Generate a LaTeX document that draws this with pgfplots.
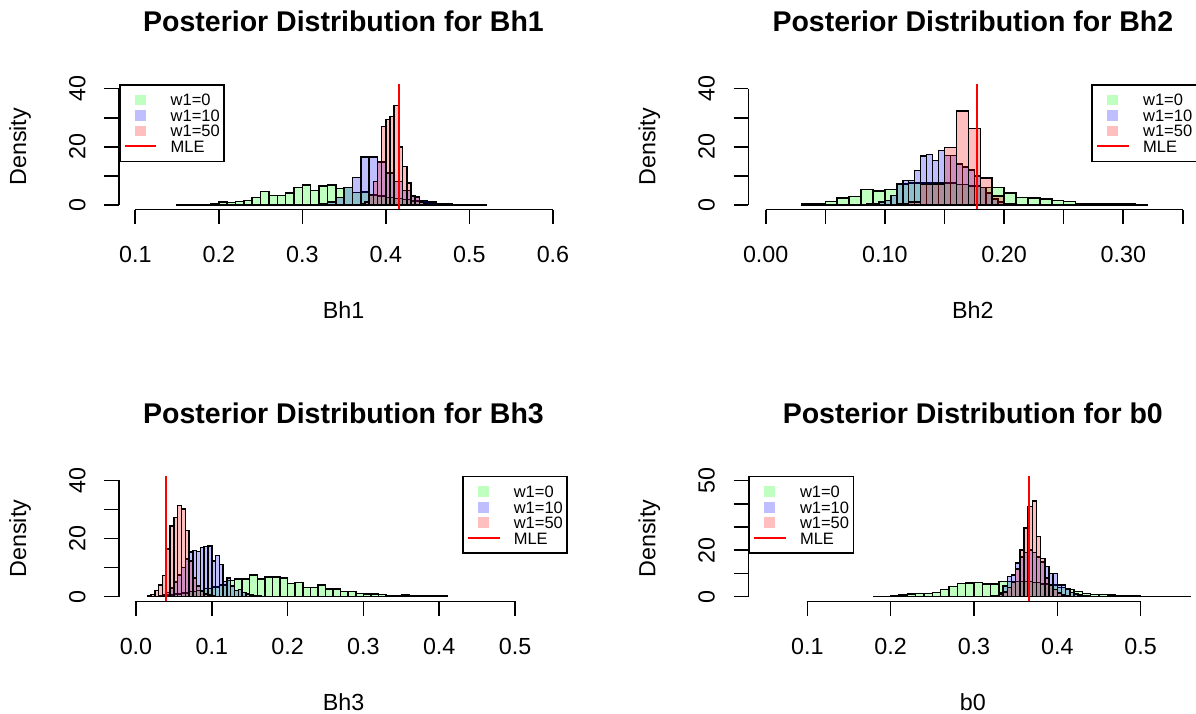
\documentclass[border=0pt]{standalone}
\usepackage{fontspec}
\setmainfont{Liberation Sans}
\usepackage{pgfplots}
\pgfplotsset{compat=1.18}
\newcommand\tickfont{\fontsize{23.3pt}{28pt}\selectfont}
\newcommand\titlefont{\fontsize{28.5pt}{34pt}\selectfont\bfseries}
\newcommand\legfont{\fontsize{16.5pt}{20pt}\selectfont}
\pgfplotsset{
  rpanel/.style={
    scale only axis, width=449pt, height=125.5pt, anchor=south west,
    clip=false,
    axis line style={draw=none},
    tick pos=left, tick align=outside, major tick length=14.7pt,
    tick style={black, line width=1.6pt},
    xticklabel style={anchor=base, inner sep=0pt, yshift=-38.3pt, font=\tickfont},
    yticklabel style={xshift=-18.9pt, rotate=90, anchor=base, inner sep=0pt, font=\tickfont},
    xlabel style={at={(axis description cs:0.5,-0.8717)}, anchor=base, inner sep=0pt, font=\tickfont},
    ylabel style={at={(axis description cs:-0.2071,0.5)}, anchor=base, inner sep=0pt, font=\tickfont},
    title style={at={(axis description cs:0.5,1.3705)}, anchor=base, inner sep=0pt, font=\titlefont},
    ylabel={Density},
    legend cell align=left,
    legend style={draw=black, line width=1.6pt, fill=white, inner xsep=4.3pt, inner ysep=7.3pt,
      row sep=0pt, column sep=0pt, font=\legfont,
      nodes={inner sep=0pt, text height=13.75pt, text depth=1.75pt}},
  },
  hist/.style={ybar interval, fill=#1, fill opacity=0.25, draw=black, line width=1.5pt,
    legend image code/.code={\path[draw=none, fill=none] (0pt,-7.75pt) rectangle (45.7pt,7.75pt);
      \fill[draw=none] (10.05pt,-5.35pt) rectangle (20.75pt,5.35pt);}},
  mle/.style={red, line width=1.8pt,
    legend image code/.code={\path[draw=none, fill=none] (0pt,-7.75pt) rectangle (45.7pt,7.75pt);
      \draw[red, line width=1.8pt] (0pt,0pt) -- (31.4pt,0pt);}},
}
\begin{document}
\begin{tikzpicture}
\useasboundingbox (0,0) rectangle (1196pt,-713pt);
% ---------------- Panel 1: Bh1 ----------------
\begin{axis}[rpanel, at={(119pt,-209.5pt)},
  xmin=0.0805, xmax=0.618, ymin=-1.6, ymax=41.6,
  xtick={0.1,0.2,0.3,0.4,0.5,0.6}, xticklabels={0.1,0.2,0.3,0.4,0.5,0.6},
  ytick={0,10,20,30,40}, yticklabels={0,,20,,40},
  title={Posterior Distribution for Bh1}, xlabel={Bh1},
  legend style={at={(axis description cs:0,1)}, anchor=north west}]
\addplot[hist=green] coordinates {
(0.15,0.1) (0.16,0.1) (0.17,0.1) (0.18,0.2) (0.19,0.45) (0.20,0.9) (0.21,0.8) (0.22,1.1)
(0.23,1.5) (0.24,2.5) (0.25,4.6) (0.26,3.2) (0.27,3.2) (0.28,4.1) (0.29,6.0) (0.30,6.8)
(0.31,4.9) (0.32,6.5) (0.33,6.8) (0.34,5.7) (0.35,6.0) (0.36,4.3) (0.37,4.5) (0.38,3.4)
(0.39,3.0) (0.40,2.6) (0.41,2.2) (0.42,1.8) (0.43,1.3) (0.44,0.9) (0.45,0.6) (0.46,0.4)
(0.47,0.3) (0.48,0.2) (0.49,0.15) (0.50,0.1) (0.51,0.1) (0.52,0.1)};
\addplot[hist=blue] coordinates {
(0.31,0.1) (0.32,0.3) (0.33,0.9) (0.34,2.6) (0.35,6.0) (0.36,9.5) (0.37,16.4) (0.38,16.4)
(0.39,14.7) (0.40,11.0) (0.41,8.0) (0.42,5.0) (0.43,2.8) (0.44,1.5) (0.45,1.0) (0.46,0.5)
(0.47,0.3) (0.48,0.1) (0.49,0.1)};
\addplot[hist=red] coordinates {
(0.370,0.3) (0.375,1.0) (0.380,3.5) (0.385,8.0) (0.390,15.0) (0.395,27.0) (0.400,29.3)
(0.405,30.5) (0.410,34.2) (0.415,20.0) (0.420,13.2) (0.425,7.5) (0.430,3.0) (0.435,2.6)
(0.440,0.9) (0.445,0.4) (0.450,0.2) (0.455,0.2)};
\addplot[mle] coordinates {(0.416,-1.6) (0.416,41.6)};
\legend{w1=0,w1=10,w1=50,MLE}
\draw[line width=1.6pt] (axis cs:0.1,-1.6) -- (axis cs:0.6,-1.6);
\draw[line width=1.6pt] (axis cs:0.0805,0) -- (axis cs:0.0805,40);
\end{axis}
% ---------------- Panel 2: Bh2 ----------------
\begin{axis}[rpanel, at={(748.3pt,-209.5pt)},
  xmin=-0.0146, xmax=0.3621, ymin=-1.6, ymax=41.6,
  xtick={0,0.05,0.10,0.15,0.20,0.25,0.30,0.35}, xticklabels={0.00,,0.10,,0.20,,0.30,},
  ytick={0,10,20,30,40}, yticklabels={0,,20,,40},
  title={Posterior Distribution for Bh2}, xlabel={Bh2},
  legend style={at={(axis description cs:1,1)}, anchor=north east}]
\addplot[hist=green] coordinates {
(0.03,0.3) (0.04,0.3) (0.05,1.1) (0.06,2.3) (0.07,2.9) (0.08,5.3) (0.09,4.7) (0.10,5.3)
(0.11,7.2) (0.12,7.5) (0.13,7.5) (0.14,7.5) (0.15,7.5) (0.16,7.0) (0.17,6.5) (0.18,6.0)
(0.19,5.9) (0.20,4.0) (0.21,2.6) (0.22,2.3) (0.23,2.1) (0.24,1.5) (0.25,1.1) (0.26,0.3)
(0.27,0.3) (0.28,0.4) (0.29,0.3) (0.30,0.3) (0.31,0.1) (0.32,0.1)};
\addplot[hist=blue] coordinates {
(0.085,0.3) (0.090,0.5) (0.095,0.9) (0.100,1.5) (0.105,3.2) (0.110,7.0) (0.115,8.4)
(0.120,8.4) (0.125,11.8) (0.130,16.8) (0.135,17.4) (0.140,15.3) (0.145,18.7) (0.150,17.0)
(0.155,17.0) (0.160,14.0) (0.165,13.0) (0.170,12.0) (0.175,10.0) (0.180,6.0) (0.185,4.0)
(0.190,2.0) (0.195,1.0) (0.200,0.5) (0.205,0.3) (0.210,0.3)};
\addplot[hist=red] coordinates {
(0.11,0.3) (0.12,1.0) (0.13,7.0) (0.14,7.2) (0.15,19.7) (0.16,32.3) (0.17,26.2)
(0.18,9.3) (0.19,3.0) (0.20,0.5) (0.21,0.5)};
\addplot[mle] coordinates {(0.177,-1.6) (0.177,41.6)};
\legend{w1=0,w1=10,w1=50,MLE}
\draw[line width=1.6pt] (axis cs:0,-1.6) -- (axis cs:0.35,-1.6);
\draw[line width=1.6pt] (axis cs:-0.0146,0) -- (axis cs:-0.0146,40);
\end{axis}
% ---------------- Panel 3: Bh3 ----------------
\begin{axis}[rpanel, at={(119pt,-601.3pt)},
  xmin=-0.0224, xmax=0.5699, ymin=-1.6, ymax=41.6,
  xtick={0,0.1,0.2,0.3,0.4,0.5}, xticklabels={0.0,0.1,0.2,0.3,0.4,0.5},
  ytick={0,10,20,30,40}, yticklabels={0,,20,,40},
  title={Posterior Distribution for Bh3}, xlabel={Bh3},
  legend style={at={(axis description cs:1,1)}, anchor=north east}]
\addplot[hist=green] coordinates {
(0.02,0.1) (0.03,0.3) (0.04,0.6) (0.05,1.0) (0.06,1.3) (0.07,1.7) (0.08,2.2) (0.09,2.8)
(0.10,3.3) (0.11,4.0) (0.12,5.6) (0.13,6.1) (0.14,6.1) (0.15,7.4) (0.16,6.1) (0.17,6.8)
(0.18,6.8) (0.19,6.5) (0.20,4.6) (0.21,4.9) (0.22,3.1) (0.23,3.1) (0.24,4.0) (0.25,2.7)
(0.26,2.7) (0.27,1.7) (0.28,1.7) (0.29,1.1) (0.30,1.0) (0.31,1.0) (0.32,0.8) (0.33,0.45)
(0.34,0.45) (0.35,0.55) (0.36,0.4) (0.37,0.2) (0.38,0.2) (0.39,0.2) (0.40,0.2) (0.41,0.2)};
\addplot[hist=blue] coordinates {
(0.030,0.2) (0.035,0.5) (0.040,1.5) (0.045,3.0) (0.050,5.0) (0.055,7.5) (0.060,10.0)
(0.065,13.0) (0.070,15.4) (0.075,15.9) (0.080,15.6) (0.085,17.0) (0.090,17.3) (0.095,17.5)
(0.100,12.2) (0.105,14.1) (0.110,11.0) (0.115,5.3) (0.120,6.5) (0.125,3.6) (0.130,2.2)
(0.135,2.5) (0.140,1.4) (0.145,1.0) (0.150,0.6) (0.155,0.3) (0.160,0.2) (0.165,0.2)};
\addplot[hist=red] coordinates {
(0.015,0.3) (0.020,0.8) (0.025,2.2) (0.030,4.0) (0.035,7.3) (0.040,16.4) (0.045,24.3)
(0.050,27.3) (0.055,31.3) (0.060,30.1) (0.065,22.8) (0.070,12.2) (0.075,6.5) (0.080,3.6)
(0.085,1.9) (0.090,1.0) (0.095,0.6) (0.100,0.3) (0.105,0.3)};
\addplot[mle] coordinates {(0.040,-1.6) (0.040,41.6)};
\legend{w1=0,w1=10,w1=50,MLE}
\draw[line width=1.6pt] (axis cs:0,-1.6) -- (axis cs:0.5,-1.6);
\draw[line width=1.6pt] (axis cs:-0.0224,0) -- (axis cs:-0.0224,40);
\end{axis}
% ---------------- Panel 4: b0 ----------------
\begin{axis}[rpanel, at={(748.3pt,-601.3pt)},
  xmin=0.0292, xmax=0.568, ymin=-2, ymax=52,
  xtick={0.1,0.2,0.3,0.4,0.5}, xticklabels={0.1,0.2,0.3,0.4,0.5},
  ytick={0,10,20,30,40,50}, yticklabels={0,,20,,,50},
  title={Posterior Distribution for b0}, xlabel={b0},
  legend style={at={(axis description cs:0,1)}, anchor=north west}]
\addplot[hist=green] coordinates {
(0.18,0.1) (0.19,0.1) (0.20,0.3) (0.21,0.7) (0.22,1.1) (0.23,1.4) (0.24,1.4) (0.25,1.8)
(0.26,3.0) (0.27,4.3) (0.28,5.7) (0.29,5.8) (0.30,6.0) (0.31,5.4) (0.32,5.4) (0.33,6.5)
(0.34,6.5) (0.35,6.5) (0.36,6.5) (0.37,6.0) (0.38,5.5) (0.39,5.0) (0.40,4.0) (0.41,3.0)
(0.42,2.2) (0.43,1.4) (0.44,1.0) (0.45,1.0) (0.46,0.7) (0.47,0.4) (0.48,0.2) (0.49,0.2)
(0.50,0.15) (0.51,0.15) (0.52,0.1) (0.53,0.1) (0.54,0.1) (0.55,0.1) (0.56,0.1)};
\addplot[hist=blue] coordinates {
(0.320,0.2) (0.325,0.5) (0.330,1.5) (0.335,4.5) (0.340,8.6) (0.345,9.3) (0.350,14.4)
(0.355,17.0) (0.360,19.0) (0.365,20.0) (0.370,19.0) (0.375,17.0) (0.380,15.0) (0.385,12.9)
(0.390,9.9) (0.395,9.9) (0.400,5.0) (0.405,5.0) (0.410,3.2) (0.415,1.7) (0.420,1.1)
(0.425,0.7) (0.430,0.3) (0.435,0.2) (0.440,0.2)};
\addplot[hist=red] coordinates {
(0.330,1.0) (0.335,2.0) (0.340,4.0) (0.345,6.0) (0.350,12.0) (0.355,20.1) (0.360,29.5)
(0.365,38.8) (0.370,41.2) (0.375,25.9) (0.380,16.5) (0.385,8.0) (0.390,5.0) (0.395,3.0)
(0.400,1.5) (0.405,0.8) (0.410,0.3) (0.415,0.3)};
\addplot[mle] coordinates {(0.366,-2) (0.366,52)};
\legend{w1=0,w1=10,w1=50,MLE}
\draw[line width=1.6pt] (axis cs:0.1,-2) -- (axis cs:0.5,-2);
\draw[line width=1.6pt] (axis cs:0.0292,0) -- (axis cs:0.0292,50);
\end{axis}
\end{tikzpicture}
\end{document}
